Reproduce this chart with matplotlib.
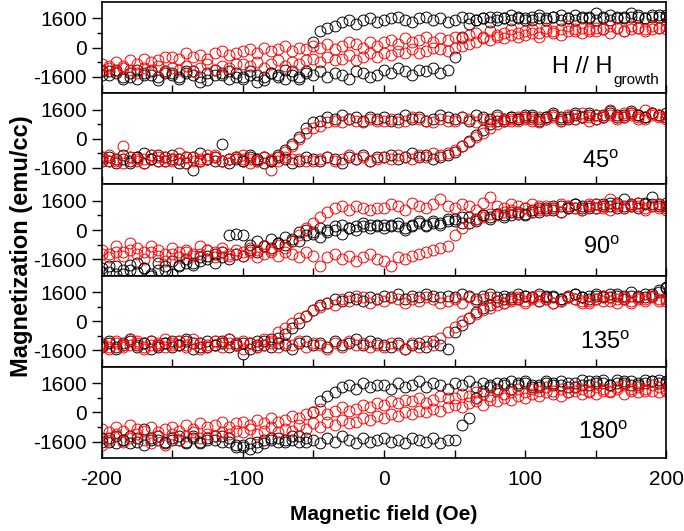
import numpy as np
import matplotlib
matplotlib.use('Agg')
import matplotlib.pyplot as plt

plt.rcParams['font.family'] = ['Liberation Sans', 'DejaVu Sans']
plt.rcParams['mathtext.fontset'] = 'custom'
plt.rcParams['mathtext.rm'] = 'Liberation Sans'
plt.rcParams['mathtext.it'] = 'Liberation Sans'
plt.rcParams['axes.unicode_minus'] = False

LABEL_FONT = ['Liberation Sans Narrow', 'Liberation Sans', 'DejaVu Sans']

# field sweep (Oe), one point every 5 Oe
FIELD = np.arange(-200, 205, 5)

# magnetization read off the loops, in units of 100 emu/cc
# "hi" = upper branch, "lo" = lower branch of each loop
p1_black_hi = [-15, -13, -14, -17, -16, -12, -14, -15, -18, -13,
               -14, -16, -13, -15, -19, -14, -12, -15, -17, -14,
               -16, -13, -15, -18, -14, -16, -12, -15, -17, -13,
               3, 9, 11, 12, 14, 15, 13, 15, 16, 14,
               15, 16, 17, 15, 14, 16, 17, 15, 16, 14,
               15, 17, 16, 15, 16, 17, 15, 16, 18, 16,
               15, 17, 16, 15, 17, 18, 16, 15, 16, 17,
               19, 16, 15, 17, 16, 17, 18, 16, 17, 18,
               17]
p1_black_lo = [-13, -15, -12, -16, -14, -17, -15, -13, -16, -14,
               -15, -17, -14, -13, -16, -18, -15, -14, -13, -16,
               -17, -15, -19, -16, -14, -15, -17, -13, -16, -14,
               -15, -13, -16, -14, -15, -17, -13, -14, -16, -15,
               -12, -14, -11, -13, -15, -12, -13, -11, -14, -12,
               -5, 6, 13, 15, 16, 14, 17, 16, 15, 17,
               16, 15, 18, 16, 17, 15, 16, 18, 17, 16,
               15, 17, 18, 16, 17, 19, 17, 16, 18, 17,
               18]
p1_red_hi = [-9, -11, -8, -10, -7, -9, -6, -8, -7, -5,
             -5, -6, -3, -5, -4, -6, -3, -2, -4, -3,
             -2, -1, -3, 0, -2, -1, 1, -2, 0, -1,
             1, 0, 2, -1, 1, 3, 2, 0, 3, 1,
             3, 4, 2, 5, 3, 4, 6, 3, 5, 4,
             6, 5, 7, 8, 6, 9, 7, 8, 10, 8,
             9, 10, 8, 11, 9, 10, 12, 9, 11, 10,
             11, 10, 12, 11, 9, 12, 11, 10, 12, 11,
             12]
p1_red_lo = [-12, -10, -13, -11, -12, -14, -11, -12, -10, -13,
             -11, -12, -10, -13, -11, -9, -12, -10, -11, -9,
             -9, -10, -8, -11, -9, -7, -10, -8, -9, -7,
             -6, -8, -5, -7, -6, -4, -7, -5, -3, -5,
             -3, -4, -2, -3, -1, -3, -2, 0, -1, -2,
             0, 1, 2, 3, 5, 4, 6, 5, 7, 6,
             7, 8, 6, 9, 8, 7, 9, 10, 8, 9,
             9, 10, 8, 11, 9, 10, 11, 9, 10, 11,
             10]

p2_black_hi = [-10, -12, -11, -9, -13, -10, -8, -11, -12, -10,
               -9, -11, -13, -10, -8, -11, -12, -3, -11, -10,
               -12, -9, -11, -10, -12, -9, -6, -3, 1, 6,
               9, 10, 12, 11, 13, 11, 12, 10, 12, 11,
               12, 10, 11, 13, 11, 12, 10, 11, 13, 12,
               11, 12, 10, 13, 12, 11, 13, 10, 12, 11,
               12, 13, 11, 12, 14, 12, 11, 13, 12, 14,
               13, 12, 15, 13, 12, 14, 13, 12, 14, 13,
               14]
p2_black_lo = [-12, -10, -13, -11, -12, -10, -13, -11, -9, -12,
               -11, -13, -10, -17, -12, -11, -10, -12, -13, -11,
               -12, -10, -11, -13, -12, -10, -11, -13, -12, -10,
               -11, -12, -10, -11, -13, -10, -11, -9, -12, -10,
               -10, -9, -11, -10, -8, -10, -9, -11, -10, -9,
               -7, -4, -1, 2, 5, 8, 10, 11, 12, 11,
               13, 12, 10, 12, 13, 11, 12, 14, 12, 13,
               11, 13, 14, 12, 13, 15, 13, 12, 14, 13,
               12]
p2_red_hi = [-11, -9, -12, -4, -10, -11, -13, -9, -10, -12,
             -11, -8, -10, -12, -11, -9, -10, -12, -11, -10,
             -9, -11, -12, -10, -11, -10, -7, -4, 0, 3,
             6, 7, 9, 10, 9, 11, 10, 9, 11, 10,
             10, 11, 9, 10, 12, 11, 10, 9, 11, 10,
             10, 12, 11, 9, 11, 10, 12, 11, 10, 12,
             11, 10, 12, 11, 13, 10, 12, 11, 14, 12,
             13, 12, 16, 12, 14, 13, 11, 16, 14, 13,
             12]
p2_red_lo = [-10, -12, -11, -13, -10, -12, -11, -9, -12, -10,
             -12, -11, -13, -10, -12, -11, -9, -12, -11, -10,
             -11, -13, -12, -10, -17, -12, -10, -11, -11, -12,
             -12, -11, -10, -12, -11, -9, -11, -10, -12, -11,
             -10, -11, -9, -10, -11, -9, -10, -8, -9, -8,
             -6, -4, -2, 1, 3, 6, 8, 10, 11, 10,
             12, 11, 9, 11, 12, 10, 13, 11, 12, 10,
             11, 12, 13, 11, 12, 14, 12, 11, 13, 12,
             11]

p3_black_hi = [-21, -23, -20, -24, -22, -18, -21, -25, -22, -20,
               -17, -19, -16, -18, -15, -14, -13, -12, -3, -2,
               -3, -8, -6, -9, -5, -7, -4, -6, -1, 0,
               -1, 1, 0, 2, 3, 1, 2, 4, 3, 2,
               3, 2, 4, 1, 3, 5, 2, 4, 3, 5,
               6, 4, 7, 5, 8, 6, 9, 7, 8, 10,
               9, 11, 10, 12, 11, 13, 12, 14, 13, 12,
               14, 13, 15, 12, 17, 13, 15, 14, 18, 14,
               13]
p3_black_lo = [-23, -20, -24, -22, -19, -23, -21, -24, -18, -22,
               -24, -20, -18, -19, -17, -16, -18, -15, -16, -13,
               -14, -11, -12, -9, -10, -7, -8, -5, -6, -3,
               -2, -4, -1, 0, -2, 1, 0, 2, 1, 3,
               1, 3, 2, 0, 2, 4, 3, 5, 4, 6,
               5, 7, 4, 6, 8, 7, 9, 8, 10, 9,
               8, 10, 12, 11, 13, 10, 12, 14, 12, 13,
               12, 14, 13, 15, 13, 14, 12, 15, 14, 13,
               15]
p3_red_hi = [-11, -13, -9, -12, -7, -10, -12, -9, -11, -13,
             -10, -12, -11, -13, -9, -11, -12, -10, -13, -11,
             -12, -10, -11, -9, -12, -8, -10, -6, -3, 1,
             4, 7, 10, 12, 13, 11, 13, 12, 11, 12,
             12, 14, 13, 11, 15, 13, 12, 14, 17, 13,
             12, 14, 13, 11, 15, 18, 13, 12, 14, 13,
             12, 14, 11, 13, 12, 14, 13, 12, 11, 13,
             14, 12, 17, 13, 12, 14, 13, 11, 13, 12,
             11]
p3_red_lo = [-13, -15, -12, -14, -11, -13, -16, -12, -14, -17,
             -13, -15, -12, -14, -13, -11, -15, -12, -14, -13,
             -14, -12, -15, -13, -11, -14, -12, -13, -15, -12,
             -14, -20, -15, -13, -16, -14, -17, -15, -13, -16,
             -17, -20, -15, -16, -14, -13, -12, -11, -10, -9,
             -3, 1, 4, 6, 7, 9, 8, 10, 11, 9,
             12, 10, 13, 11, 12, 10, 13, 12, 11, 14,
             12, 13, 11, 14, 12, 13, 15, 12, 13, 14,
             12]

p4_black_hi = [-13, -11, -14, -12, -10, -13, -12, -11, -14, -12,
               -11, -13, -10, -12, -14, -11, -13, -12, -10, -12,
               -18, -12, -11, -13, -10, -9, -7, -4, -1, 3,
               6, 9, 10, 12, 11, 13, 12, 11, 13, 12,
               14, 13, 15, 12, 14, 13, 15, 14, 13, 14,
               13, 15, 14, 12, 14, 15, 13, 14, 12, 15,
               14, 13, 15, 14, 13, 12, 14, 15, 13, 14,
               15, 14, 13, 15, 14, 16, 14, 13, 15, 17,
               19]
p4_black_lo = [-14, -12, -15, -13, -11, -14, -12, -15, -13, -12,
               -14, -13, -11, -15, -12, -14, -13, -11, -14, -13,
               -12, -15, -13, -11, -14, -12, -13, -15, -12, -11,
               -13, -12, -14, -11, -13, -12, -10, -13, -11, -12,
               -13, -14, -12, -15, -13, -12, -14, -11, -13, -15,
               -6, -2, 2, 5, 7, 9, 11, 12, 13, 12,
               14, 13, 11, 13, 14, 12, 13, 15, 13, 12,
               14, 13, 15, 14, 12, 14, 13, 15, 14, 16,
               18]
p4_red_hi = [-12, -14, -11, -13, -10, -12, -14, -11, -13, -10,
             -12, -11, -13, -10, -12, -14, -11, -12, -10, -13,
             -11, -12, -14, -10, -12, -6, -4, -1, 2, 3,
             6, 8, 10, 9, 12, 11, 14, 13, 10, 12,
             11, 13, 12, 10, 12, 11, 13, 12, 10, 11,
             12, 10, 13, 11, 12, 13, 11, 10, 12, 13,
             11, 12, 14, 12, 10, 11, 13, 12, 11, 10,
             12, 11, 13, 10, 12, 11, 13, 12, 14, 11,
             12]
p4_red_lo = [-13, -15, -12, -14, -13, -11, -15, -13, -12, -14,
             -13, -11, -14, -12, -15, -13, -11, -14, -12, -13,
             -15, -12, -14, -13, -11, -14, -12, -13, -11, -14,
             -12, -13, -15, -12, -14, -11, -13, -12, -14, -13,
             -14, -12, -13, -15, -12, -14, -11, -13, -9, -6,
             -3, 0, 2, 4, 6, 7, 9, 10, 11, 12,
             10, 13, 11, 12, 10, 11, 13, 12, 10, 11,
             12, 14, 11, 12, 13, 10, 12, 11, 13, 12,
             11]

p5_black_hi = [-14, -16, -13, -15, -17, -14, -9, -15, -13, -16,
               -14, -15, -17, -13, -16, -14, -15, -13, -16, -19,
               -18, -20, -19, -17, -15, -14, -16, -15, -13, -16,
               0, 6, 9, 11, 14, 15, 13, 16, 14, 15,
               15, 13, 16, 14, 15, 17, 14, 16, 15, 13,
               16, 15, 17, 14, 16, 15, 13, 16, 17, 15,
               16, 14, 15, 17, 16, 15, 14, 16, 18, 15,
               17, 16, 15, 18, 16, 17, 15, 16, 17, 18,
               16]
p5_black_lo = [-16, -14, -17, -15, -13, -16, -18, -14, -15, -17,
               -15, -13, -16, -14, -17, -15, -13, -16, -14, -18,
               -19, -17, -16, -15, -14, -16, -15, -13, -16, -14,
               -15, -17, -14, -16, -13, -15, -17, -14, -16, -15,
               -14, -16, -15, -17, -14, -15, -16, -14, -17, -15,
               -15, -7, -3, 8, 12, 14, 16, 15, 13, 16,
               17, 15, 14, 16, 15, 17, 16, 14, 15, 17,
               16, 18, 15, 16, 17, 15, 16, 18, 17, 16,
               17]
p5_red_hi = [-9, -11, -8, -10, -7, -9, -10, -8, -11, -9,
             -8, -10, -7, -9, -6, -8, -7, -5, -8, -6,
             -5, -7, -4, -6, -3, -5, -4, -2, -3, -1,
             0, 2, -1, 1, 3, 1, 2, 4, 3, 5,
             4, 6, 5, 7, 6, 8, 5, 7, 9, 8,
             8, 10, 9, 11, 10, 9, 12, 10, 11, 13,
             11, 13, 12, 14, 12, 13, 11, 14, 13, 12,
             14, 13, 12, 14, 15, 13, 14, 12, 15, 14,
             13]
p5_red_lo = [-18, -15, -12, -16, -14, -12, -15, -17, -13, -18,
             -12, -15, -13, -11, -14, -12, -13, -11, -12, -10,
             -11, -9, -12, -10, -8, -11, -9, -10, -7, -9,
             -6, -8, -5, -7, -4, -6, -5, -3, -4, -2,
             -3, -1, -2, 0, -1, 1, 0, 2, 1, 3,
             4, 3, 5, 6, 4, 7, 6, 8, 7, 9,
             8, 10, 9, 11, 10, 9, 11, 12, 10, 11,
             10, 12, 11, 13, 10, 12, 11, 13, 12, 11,
             12]

panels = [
    (p1_black_hi, p1_black_lo, p1_red_hi, p1_red_lo),
    (p2_black_hi, p2_black_lo, p2_red_hi, p2_red_lo),
    (p3_black_hi, p3_black_lo, p3_red_hi, p3_red_lo),
    (p4_black_hi, p4_black_lo, p4_red_hi, p4_red_lo),
    (p5_black_hi, p5_black_lo, p5_red_hi, p5_red_lo),
]
panel_labels = ['H // H', '45$^{\\mathrm{o}}$', '90$^{\\mathrm{o}}$',
                '135$^{\\mathrm{o}}$', '180$^{\\mathrm{o}}$']
label_pos = [(0.797, 0.22), (0.85, 0.177), (0.852, 0.237), (0.847, 0.195), (0.843, 0.208)]

fig, axes = plt.subplots(5, 1, sharex=True, figsize=(6.84, 5.31), dpi=100,
                         gridspec_kw=dict(hspace=0))
fig.subplots_adjust(left=0.1484, right=0.9744, top=0.9962, bottom=0.1375)

marker_kw = dict(linestyle='none', marker='o', markersize=7.8, markerfacecolor='none',
                 markeredgewidth=0.7)

for i, (ax, (bhi, blo, rhi, rlo), lab, (lx, ly)) in enumerate(zip(axes, panels, panel_labels, label_pos)):
    ax.plot(FIELD, np.array(bhi) * 100, markeredgecolor='black', **marker_kw)
    ax.plot(FIELD, np.array(blo) * 100, markeredgecolor='black', **marker_kw)
    ax.plot(FIELD, np.array(rhi) * 100, markeredgecolor='red', **marker_kw)
    ax.plot(FIELD, np.array(rlo) * 100, markeredgecolor='red', **marker_kw)

    ax.set_xlim(-200, 200)
    ax.set_ylim(-2500, 2500)
    ax.set_yticks([-1600, 0, 1600])
    ax.set_yticks([-800, 800], minor=True)
    ax.set_xticks([-200, -100, 0, 100, 200])
    ax.set_xticks([-150, -50, 50, 150], minor=True)
    ax.tick_params(axis='y', which='major', direction='out', length=7, width=1, labelsize=15)
    ax.tick_params(axis='y', which='minor', direction='out', length=3.5, width=1)
    ax.tick_params(axis='x', which='both', direction='in', length=6, width=1, labelsize=15, pad=9)
    for s in ax.spines.values():
        s.set_linewidth(1.2)

    t = ax.text(lx, ly, lab, transform=ax.transAxes, fontsize=17, ha='left', va='baseline')
    if i == 0:
        # subscript drawn separately, it is small in the original
        ax.annotate('growth', xy=(1, 0), xycoords=t, xytext=(1, -4), textcoords='offset points',
                    fontsize=11, ha='left', va='baseline')

fig.text(22 / 684, 1 - 246 / 531, 'Magnetization (emu/cc)', rotation=90, ha='center', va='center',
         fontsize=17, fontweight='bold', family=LABEL_FONT)
fig.text(384 / 684, 1 - 515 / 531, 'Magnetic field (Oe)', ha='center', va='center',
         fontsize=15, fontweight='bold', family=LABEL_FONT)

fig.savefig('out.png', dpi=100)
